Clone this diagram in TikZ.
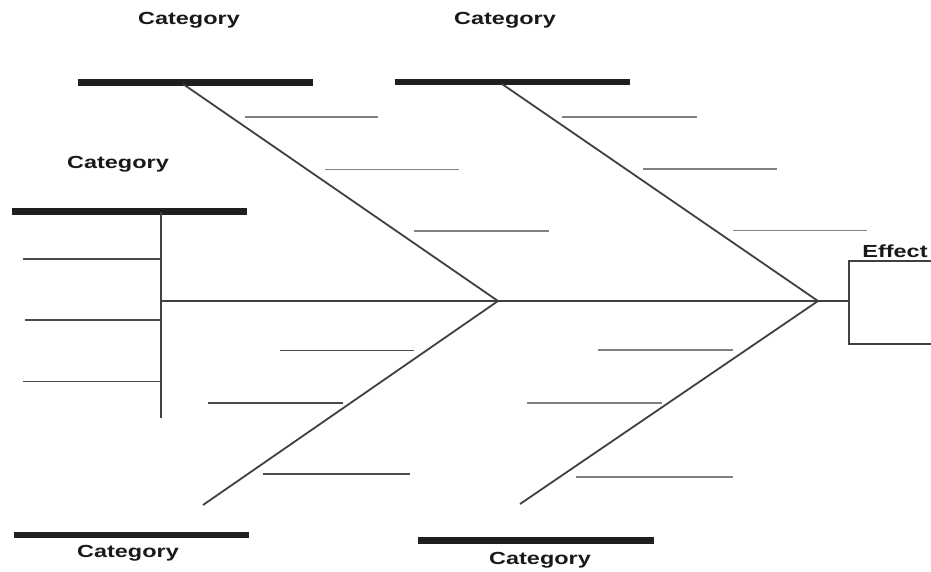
\documentclass[tikz,border=0pt]{standalone}
\usepackage{fontspec}
\setmainfont{Liberation Sans}
\begin{document}
\begin{tikzpicture}[x=1pt,y=-1pt,
  bar/.style={line width=6.5pt,draw=black!88},
  bone/.style={line width=1.8pt,draw=black!75},
  rib/.style={line width=1.8pt,draw=black!50},
  lrib/.style={line width=1.8pt,draw=black!70},
  cat/.style={font=\fontsize{17.5}{19}\selectfont\bfseries,text=black!90,inner sep=0pt}]
\useasboundingbox (0,0) rectangle (931,571);
% labels
\node[cat] (t1) at (189,20) {\scalebox{1.34}[1]{Category}};
\node[cat] (t2) at (505,20) {\scalebox{1.34}[1]{Category}};
\node[cat] (t3) at (118,164) {\scalebox{1.34}[1]{Category}};
\node[cat] (t4) at (128,553) {\scalebox{1.34}[1]{Category}};
\node[cat] (t5) at (540,560) {\scalebox{1.34}[1]{Category}};
\node[cat] (ef) at (895,251) {\scalebox{1.34}[1]{Effect}};
% key points
\coordinate (j1) at (498,301);
\coordinate (j2) at (818,301);
\coordinate (s0) at (161,301);
\coordinate (bx) at (849,301);
\coordinate (a1) at (183,84);
\coordinate (a2) at (502,84);
\coordinate (b1) at (203,505);
\coordinate (b2) at (520,504);
\coordinate (vt) at (161,212);
\coordinate (vb) at (161,418);
% bars
\draw[bar] (78,82.5) coordinate (p1) -- (313,82.5) coordinate (p2);
\draw[bar] (395,82) coordinate (p3) -- (630,82) coordinate (p4);
\draw[bar] (12,211.5) coordinate (p5) -- (247,211.5) coordinate (p6);
\draw[bar] (14,535) coordinate (p7) -- (249,535) coordinate (p8);
\draw[bar] (418,540.5) coordinate (p9) -- (654,540.5) coordinate (p10);
% spine and bones
\draw[bone] (s0) -- (bx);
\draw[bone] (a1) -- (j1) -- (b1);
\draw[bone] (a2) -- (j2) -- (b2);
\draw[bone] (vt) -- (vb);
% effect box
\draw[bone] (940,261) -- (849,261) -- (849,344) -- (940,344);
% left ribs
\draw[lrib] (23,259) -- (161,259);
\draw[lrib] (25,320) -- (161,320);
\draw[lrib] (23,381.5) -- (161,381.5);
% upper ribs
\draw[rib] (245,117) -- (378,117);
\draw[rib] (325,169.5) -- (459,169.5);
\draw[rib] (414,231) -- (549,231);
\draw[rib] (562,117) -- (697,117);
\draw[rib] (643,169) -- (777,169);
\draw[rib] (733,230.5) -- (867,230.5);
% lower ribs
\draw[lrib] (280,350.5) -- (414,350.5);
\draw[lrib] (208,403) -- (343,403);
\draw[lrib] (263,474) -- (410,474);
\draw[rib] (598,350) -- (733,350);
\draw[rib] (527,403) -- (662,403);
\draw[rib] (576,477) -- (733,477);
\end{tikzpicture}
\end{document}
